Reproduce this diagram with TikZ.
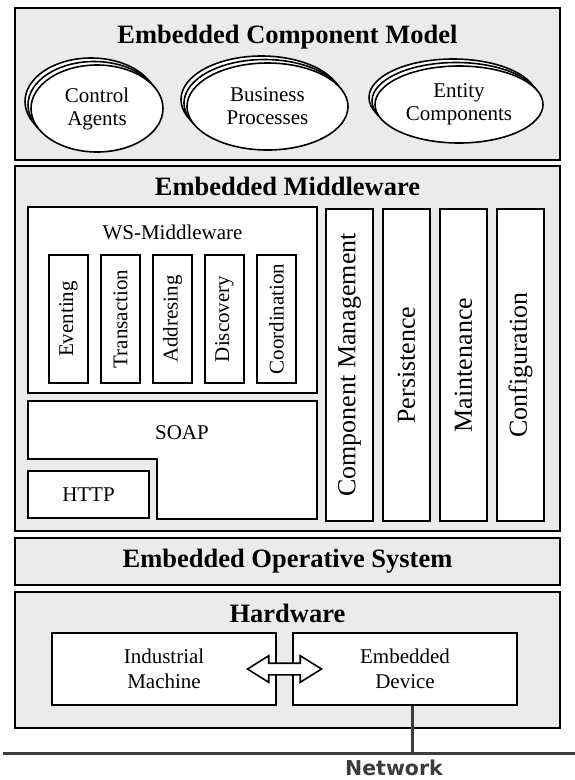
\documentclass[tikz,border=0pt]{standalone}
\usepackage{fontspec}
\setmainfont{Liberation Serif}
\newfontfamily\netfont{DejaVu Sans}
\usepackage{tikz}
\usetikzlibrary{shapes.geometric,shapes.arrows,shadows,calc}
\definecolor{layergray}{HTML}{EBEBEB}
\definecolor{netgray}{HTML}{3C3C3C}
\tikzset{
  layer/.style={draw,line width=2.4pt,fill=layergray,inner sep=0pt},
  layertitle/.style={font=\fontsize{26.5}{28}\selectfont\bfseries},
  module/.style={draw,line width=1.6pt,fill=white,inner sep=0pt,align=center,font=\fontsize{21}{23}\selectfont},
  service/.style={module,rotate=90,minimum width=128pt,minimum height=39pt},
  facility/.style={module,rotate=90,minimum width=312pt,minimum height=47pt,font=\fontsize{26}{28}\selectfont},
  device/.style={module,minimum width=224pt,minimum height=72pt,font=\fontsize{21}{25}\selectfont},
  component/.style={module,ellipse,
    copy shadow={shadow xshift=-6pt,shadow yshift=7pt,fill=white,draw=black,line width=1.6pt},
    copy shadow={shadow xshift=-3pt,shadow yshift=3.5pt,fill=white,draw=black,line width=1.6pt}},
  netline/.style={draw=netgray,line width=3pt}
}
\begin{document}
\begin{tikzpicture}[x=1pt,y=-1pt]
\useasboundingbox (0,0) rectangle (575,780);
% layers
\node[layer,minimum width=545pt,minimum height=152pt] (cmodel) at (287.5,84) {};
\node[layer,minimum width=545pt,minimum height=365pt] (mware) at (287.5,348.5) {};
\node[layer,minimum width=545pt,minimum height=47pt] (eos) at (287.5,561.5) {};
\node[layer,minimum width=545pt,minimum height=136pt] (hware) at (287.5,660) {};
\node[layertitle] (cmtitle) at (287.5,37) {Embedded Component Model};
\node[layertitle] (mwtitle) at (287.5,186) {Embedded Middleware};
\node[layertitle] (eostitle) at (287.5,561.5) {Embedded Operative System};
\node[layertitle] (hwtitle) at (287.5,613) {Hardware};
% component model
\node[component,minimum width=132pt,minimum height=87pt] (agents) at (97,108.5) {Control\\Agents};
\node[component,minimum width=161pt,minimum height=87pt] (process) at (267.5,106.5) {Business\\Processes};
\node[component,minimum width=168pt,minimum height=77pt] (entity) at (459,104.5) {Entity\\Components};
% ws middleware
\node[module,minimum width=289pt,minimum height=186pt] (ws) at (172.5,300) {};
\node[font=\fontsize{21}{23}\selectfont] (wstitle) at (172.5,232) {WS-Middleware};
\foreach \t [count=\i from 0] in {Eventing,Transaction,Addresing,Discovery,Coordination}
  \node[service] (ws\i) at (68.5+52*\i,319) {\t};
% soap and http
\draw[line width=1.6pt,fill=white] (28,401) -- (317,401) -- (317,519) -- (157,519) -- (157,459) -- (28,459) -- cycle;
\node[font=\fontsize{21}{23}\selectfont] (soap) at (182,433) {SOAP};
\node[module,minimum width=121pt,minimum height=47pt] (http) at (88.5,494.5) {HTTP};
% middleware facilities
\foreach \x/\t [count=\i] in {349.5/Component Management,406.5/Persistence,463.5/Maintenance,520.5/Configuration}
  \node[facility] (fac\i) at (\x,365) {\t};
% hardware
\node[device] (machine) at (164,669) {Industrial\\Machine};
\node[device] (device) at (405,669) {Embedded\\Device};
\node[double arrow,draw,fill=white,line width=1.6pt,inner sep=0pt,inner ysep=5pt,minimum height=74pt,minimum width=25pt,
  double arrow head extend=7.5pt,double arrow tip angle=64] (link) at ($(machine.east)!0.5!(device.west)$) {};
% network
\coordinate (netL) at (3,753); \coordinate (netR) at (575,753); \coordinate (netjoin) at (412,753);
\draw[netline] (netL) -- (netR);
\draw[netline] (device.south -| netjoin) -- (netjoin);
\node[font=\netfont\fontsize{20.5}{22}\selectfont\bfseries,text=netgray] (network) at (394,768) {Network};
\end{tikzpicture}
\end{document}
